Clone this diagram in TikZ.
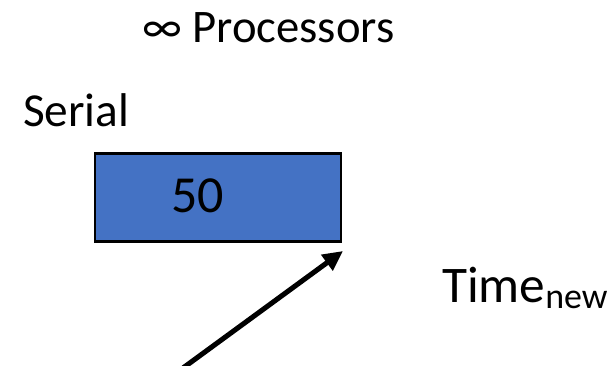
\documentclass[tikz,border=0pt]{standalone}
\usepackage{fontspec}
\setmainfont{Carlito}
\usetikzlibrary{arrows.meta}
\definecolor{serialblue}{HTML}{4472C4}
\tikzset{
    lbl/.style={anchor=base west,inner sep=0pt,outer sep=0pt},
    block/.style={draw=black,line width=1.6pt,fill=serialblue,inner sep=0pt,
                  minimum width=185pt,minimum height=66pt},
  }
\begin{document}
\begin{tikzpicture}[x=0.75pt,y=-0.75pt]
  \useasboundingbox (0,0) rectangle (610,366);
  %titre
  \node[lbl,font=\fontsize{35}{42}\selectfont] (title) at (142,43) {∞ Processors};
  %SERIAL
  \node[lbl,font=\fontsize{35.5}{42}\selectfont] (serlbl) at (23,127) {Serial};
  \node[block] (serial) at (218,197.5) {};
  \node[lbl,font=\fontsize{39}{46}\selectfont] (val) at (171,213) {50};
  %fleche
  \coordinate (tail) at (183,368);
  \coordinate (tip) at (343,251);
  \draw[line width=3.8pt,-{Triangle[length=15pt,width=14pt]}] (tail) -- (tip);
  %temps
  \node[lbl,font=\fontsize{38.5}{44}\selectfont] (time) at (442,303) {Time\textsubscript{new}};
\end{tikzpicture}
\end{document}
